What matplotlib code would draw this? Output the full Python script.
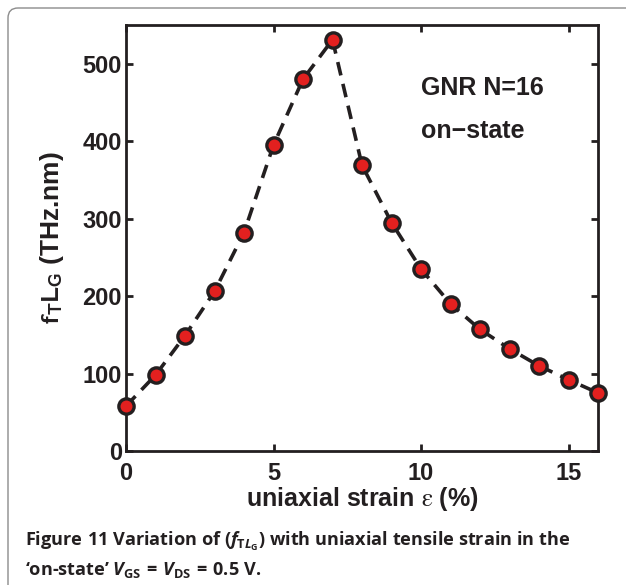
# Fig. 11 remake: f_T*L_G versus uniaxial strain for GNR N=16 (on-state)
import matplotlib

matplotlib.use("Agg")
import matplotlib.pyplot as plt
from matplotlib.patches import FancyBboxPatch
from matplotlib.transforms import IdentityTransform

# Values
strain = [0, 1, 2, 3, 4, 5, 6, 7, 8, 9, 10, 11, 12, 13, 14, 15, 16]
ftlg = [58, 98, 149, 206, 282, 395, 480, 531, 369, 295, 235, 190, 157, 132, 110, 92, 75]
xticks = [0, 5, 10, 15]
yticks = [0, 100, 200, 300, 400, 500]

RED = "#e3201f"
INK = "#231f20"

# caption math uses the custom set (Open Sans, Myriad look-alike)
plt.rcParams["mathtext.fontset"] = "custom"
plt.rcParams["mathtext.rm"] = "Open Sans:bold"
plt.rcParams["mathtext.it"] = "Open Sans:bold:italic"
plt.rcParams["mathtext.bf"] = "Open Sans:bold"

fig = plt.figure(figsize=(6.26, 5.85), dpi=100)

# rounded grey frame, cut off at right and bottom like the page crop
frame = FancyBboxPatch(
    (8, -100), 800, 585 - 8 + 100,
    boxstyle="round,pad=0,rounding_size=10",
    transform=IdentityTransform(), fill=False,
    edgecolor="#8c8c8c", linewidth=1.0,
)
fig.patches.append(frame)

ax = fig.add_axes([126 / 626, 1 - 451 / 585, (598 - 126) / 626, (451 - 25) / 585])
ax.plot(strain, ftlg, "--", color=INK, linewidth=2.6, dashes=(3.8, 2.4), zorder=2)
ax.plot(strain, ftlg, "o", markersize=11, markerfacecolor=RED,
        markeredgecolor=INK, markeredgewidth=2.4, zorder=3, clip_on=False)

ax.set_xlim(0, 16)
ax.set_ylim(0, 550)
ax.set_xticks(xticks)
ax.set_yticks(yticks)
ax.tick_params(direction="in", length=5, width=2, colors=INK, top=True, right=True,
               labelsize=17)
ax.tick_params(axis="x", pad=8)
ax.tick_params(axis="y", pad=3)
for lab in ax.get_xticklabels() + ax.get_yticklabels():
    lab.set_fontfamily("Liberation Sans")
    lab.set_fontweight("bold")
for s in ax.spines.values():
    s.set_linewidth(2)
    s.set_color(INK)

ax.text(0.625, 0.835, "GNR N=16", transform=ax.transAxes, fontsize=18,
        fontfamily="Liberation Sans", fontweight="bold", color=INK)
ax.text(0.625, 0.735, "on\u2212state", transform=ax.transAxes, fontsize=18,
        fontfamily="Liberation Sans", fontweight="bold", color=INK)

ax.set_xlabel(r"uniaxial strain $\mathrm{\varepsilon}$ (%)", fontsize=18,
              fontfamily="Liberation Sans", fontweight="bold", color=INK,
              math_fontfamily="stix", labelpad=0)
ax.set_ylabel(r"$\mathbf{f_T L_G}$ (THz.nm)", fontsize=19,
              fontfamily="Liberation Sans", fontweight="bold", color=INK,
              math_fontfamily="stixsans", labelpad=12)

# caption below the plot
cap_kw = dict(fontsize=13.1, fontfamily="Open Sans", fontweight="bold",
              color=INK, ha="left", va="baseline")
fig.text(25 / 626, 1 - 546 / 585,
         r"$\mathbf{Figure\ 11}$ Variation of ($f_{\mathrm{T}L_{\mathrm{G}}}$) with uniaxial tensile strain in the",
         **cap_kw)
fig.text(25 / 626, 1 - 575 / 585,
         r"‘on-state’ $V_{\mathrm{GS}}\,=\,V_{\mathrm{DS}}\,=\,0.5\ \mathrm{V}$.",
         **cap_kw)

fig.savefig("out.png", dpi=100)
